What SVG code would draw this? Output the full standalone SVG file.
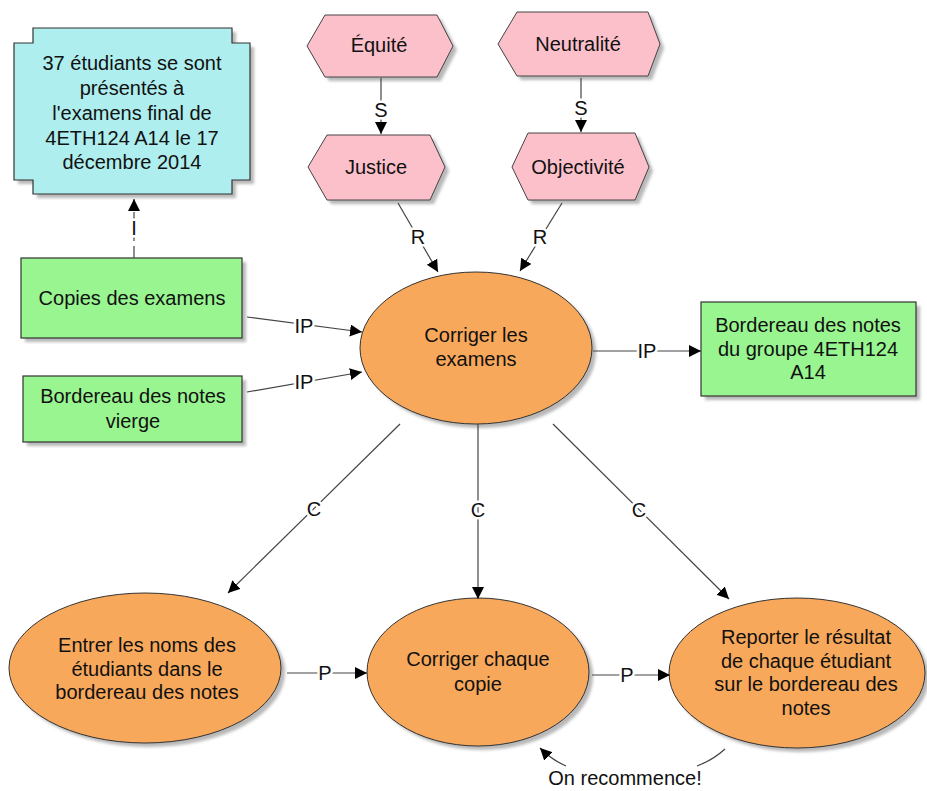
<svg xmlns="http://www.w3.org/2000/svg" width="927" height="791" viewBox="0 0 927 791">
<defs>
<marker id="ah" markerUnits="userSpaceOnUse" markerWidth="14" markerHeight="14" refX="12" refY="6" orient="auto">
<path d="M0,0 L12,6 L0,12 z" fill="#000"/>
</marker>
<filter id="sh" x="-10%" y="-10%" width="130%" height="130%">
<feGaussianBlur stdDeviation="1.5"/>
</filter>
</defs>
<style>
text{font-family:"Liberation Sans",Arial,sans-serif;font-size:20px;fill:#111;text-anchor:middle}
.shadow{fill:#b8b8b8;filter:url(#sh)}
.rect{fill:#98f590;stroke:#333;stroke-width:1.2}
.cyan{fill:#aeeeee;stroke:#333;stroke-width:1.2}
.hex{fill:#fcc0cb;stroke:#444;stroke-width:1}
.ell{fill:#f8a85a;stroke:#333;stroke-width:1}
.con{stroke:#444;stroke-width:1.2;fill:none}
.arr{marker-end:url(#ah)}
.lbl{stroke:#fff;stroke-width:5;paint-order:stroke;stroke-linejoin:round}
</style>

<g id="node-etudiants">
<polygon class="shadow" transform="translate(4,4)" points="33,28 232,28 232,43 250,43 250,180 232,180 232,194 33,194 33,180 14,180 14,43 33,43"/>
<polygon class="cyan" points="33,28 232,28 232,43 250,43 250,180 232,180 232,194 33,194 33,180 14,180 14,43 33,43"/>
<text x="132" y="70">37 étudiants se sont</text>
<text x="132" y="95">présentés à</text>
<text x="132" y="120">l'examens final de</text>
<text x="132" y="145">4ETH124 A14 le 17</text>
<text x="132" y="169">décembre 2014</text>
</g>

<g id="node-copies">
<rect class="shadow" x="25" y="262" width="221" height="80"/>
<rect class="rect" x="21" y="258" width="221" height="80"/>
<text x="132" y="305">Copies des examens</text>
</g>

<g id="node-vierge">
<rect class="shadow" x="27" y="380" width="219" height="66"/>
<rect class="rect" x="23" y="376" width="219" height="66"/>
<text x="133" y="403">Bordereau des notes</text>
<text x="133" y="428">vierge</text>
</g>

<g id="node-equite">
<polygon class="shadow" transform="translate(4,4)" points="307,46 325,15 437,15 453,46 437,77 325,77"/>
<polygon class="hex" points="307,46 325,15 437,15 453,46 437,77 325,77"/>
<text x="379" y="52">Équité</text>
</g>

<g id="node-neutralite">
<polygon class="shadow" transform="translate(4,4)" points="498,44 517,12 648,12 660,44 648,76 517,76"/>
<polygon class="hex" points="498,44 517,12 648,12 660,44 648,76 517,76"/>
<text x="578" y="51">Neutralité</text>
</g>

<g id="node-justice">
<polygon class="shadow" transform="translate(4,4)" points="308,167 327,135 430,135 445,167 430,200 327,200"/>
<polygon class="hex" points="308,167 327,135 430,135 445,167 430,200 327,200"/>
<text x="376" y="174">Justice</text>
</g>

<g id="node-objectivite">
<polygon class="shadow" transform="translate(4,4)" points="512,167 528,133 635,133 649,167 635,200 528,200"/>
<polygon class="hex" points="512,167 528,133 635,133 649,167 635,200 528,200"/>
<text x="578" y="174">Objectivité</text>
</g>

<g id="node-corriger-examens">
<ellipse class="shadow" cx="480" cy="352" rx="116" ry="76"/>
<ellipse class="ell" cx="476" cy="348" rx="116" ry="76"/>
<text x="476" y="342">Corriger les</text>
<text x="476" y="366">examens</text>
</g>

<g id="node-bordereau-groupe">
<rect class="shadow" x="705" y="306" width="215" height="94"/>
<rect class="rect" x="701" y="302" width="215" height="94"/>
<text x="808" y="332">Bordereau des notes</text>
<text x="808" y="356">du groupe 4ETH124</text>
<text x="808" y="379">A14</text>
</g>

<g id="node-entrer-noms">
<ellipse class="shadow" cx="149" cy="672" rx="136" ry="75"/>
<ellipse class="ell" cx="145" cy="668" rx="136" ry="75"/>
<text x="147" y="652">Entrer les noms des</text>
<text x="147" y="676">étudiants dans le</text>
<text x="147" y="699">bordereau des notes</text>
</g>

<g id="node-corriger-copie">
<ellipse class="shadow" cx="482" cy="676" rx="111" ry="74"/>
<ellipse class="ell" cx="478" cy="672" rx="111" ry="74"/>
<text x="478" y="666">Corriger chaque</text>
<text x="478" y="691">copie</text>
</g>

<g id="node-reporter">
<ellipse class="shadow" cx="801" cy="677" rx="128" ry="75"/>
<ellipse class="ell" cx="797" cy="673" rx="128" ry="75"/>
<text x="806" y="644">Reporter le résultat</text>
<text x="806" y="668">de chaque étudiant</text>
<text x="806" y="691">sur le bordereau des</text>
<text x="806" y="715">notes</text>
</g>

<g id="connectors">
<line class="con arr" x1="134" y1="258" x2="134" y2="199" stroke-dasharray="12,5"/>
<text class="lbl" x="134" y="235">I</text>

<line class="con arr" x1="381" y1="78" x2="381" y2="134"/>
<text class="lbl" x="381" y="117">S</text>
<line class="con arr" x1="581" y1="78" x2="581" y2="132"/>
<text class="lbl" x="581" y="115">S</text>

<line class="con arr" x1="398" y1="203" x2="438" y2="272"/>
<text class="lbl" x="418" y="244">R</text>
<line class="con arr" x1="562" y1="203" x2="520" y2="271"/>
<text class="lbl" x="540" y="244">R</text>

<line class="con arr" x1="247" y1="317" x2="362" y2="332"/>
<text class="lbl" x="304" y="333">IP</text>
<line class="con arr" x1="247" y1="392" x2="362" y2="372"/>
<text class="lbl" x="304" y="389">IP</text>
<line class="con arr" x1="593" y1="351" x2="701" y2="351"/>
<text class="lbl" x="647" y="358">IP</text>

<line class="con arr" x1="400" y1="424" x2="228" y2="593"/>
<text class="lbl" x="314" y="516">C</text>
<line class="con arr" x1="478" y1="424" x2="478" y2="599"/>
<text class="lbl" x="478" y="517">C</text>
<line class="con arr" x1="553" y1="424" x2="729" y2="599"/>
<text class="lbl" x="639" y="517">C</text>

<line class="con arr" x1="287" y1="673" x2="367" y2="673"/>
<text class="lbl" x="325" y="680">P</text>
<line class="con arr" x1="592" y1="675" x2="670" y2="675"/>
<text class="lbl" x="627" y="682">P</text>

<path class="con" d="M725,749 Q713,760 697,766"/>
<path class="con arr" d="M566,766 Q552,760 540,748"/>
<text x="625" y="785">On recommence!</text>
</g>
</svg>
